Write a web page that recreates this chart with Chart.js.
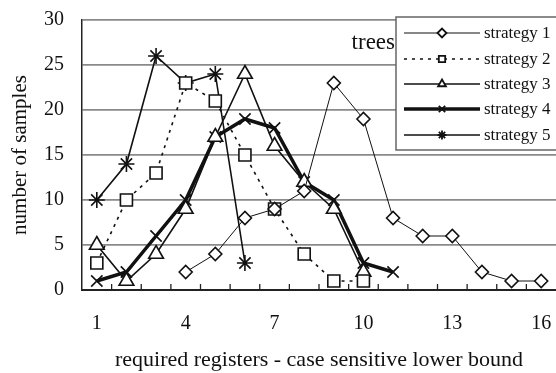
<!DOCTYPE html>
<html>
<head>
<meta charset="utf-8">
<script src="https://cdn.jsdelivr.net/npm/chart.js@4.4.1/dist/chart.umd.min.js"></script>
<style>
  html, body { margin: 0; padding: 0; background: #fff; overflow: hidden; }
  #wrap { width: 556px; height: 373px; position: relative; }
</style>
</head>
<body>
<div id="wrap"><canvas id="grafico"></canvas></div>
<script>
// valores
let categorias = ['1', '2', '3', '4', '5', '6', '7', '8', '9', '10', '11', '12', '13', '14', '15', '16'];
let estrategia1 = [null, null, null, 2, 4, 8, 9, 11, 23, 19, 8, 6, 6, 2, 1, 1];
let estrategia2 = [3, 10, 13, 23, 21, 15, 9, 4, 1, 1, null, null, null, null, null, null];
let estrategia3 = [5, 1, 4, 9, 17, 24, 16, 12, 9, 2, null, null, null, null, null, null];
let estrategia4 = [1, 2, 6, 10, 17, 19, 18, 12, 10, 3, 2, null, null, null, null, null];
let estrategia5 = [10, 14, 26, 23, 24, 3, null, null, null, null, null, null, null, null, null, null];
let nomes = ['strategy 1', 'strategy 2', 'strategy 3', 'strategy 4', 'strategy 5'];

Chart.defaults.font.family = '"Liberation Serif", "DejaVu Serif", serif';
Chart.defaults.color = '#111';

function serie(nome, dados, estilo, raio, largura, tracejado) {
    return {
        label: nome,
        data: dados,
        borderColor: '#111',
        borderWidth: largura,
        borderDash: tracejado || [],
        pointStyle: estilo,
        pointRadius: raio,
        pointBorderWidth: 1.6,
        pointBorderColor: '#111',
        pointBackgroundColor: '#fff',
        fill: false,
        tension: 0
    };
}

let datasets = [
    serie(nomes[0], estrategia1, 'rectRot', 6.5, 1),
    serie(nomes[1], estrategia2, 'rect', 8.5, 1.6, [3, 5]),
    serie(nomes[2], estrategia3, 'triangle', 8.5, 1.6),
    serie(nomes[3], estrategia4, 'crossRot', 8, 3.5),
    serie(nomes[4], estrategia5, 'star', 8, 1.6)
];

// marcas pequenas no eixo x, viradas para dentro
const marcasX = {
    id: 'marcasX',
    afterDatasetsDraw(chart) {
        const ctx = chart.ctx;
        const x = chart.scales.x;
        const baixo = chart.chartArea.bottom;
        ctx.save();
        ctx.strokeStyle = '#222';
        ctx.lineWidth = 1.3;
        for (let i = 0; i < categorias.length - 1; i++) {
            let px = (x.getPixelForValue(i) + x.getPixelForValue(i + 1)) / 2;
            ctx.beginPath();
            ctx.moveTo(px, baixo);
            ctx.lineTo(px, baixo - 6);
            ctx.stroke();
        }
        ctx.restore();
    }
};

// legenda com linha + marcador, e o texto "trees"
const legenda = {
    id: 'legenda',
    afterDraw(chart) {
        const ctx = chart.ctx;
        ctx.save();
        ctx.font = '23px "Liberation Serif"';
        ctx.fillStyle = '#111';
        ctx.textAlign = 'right';
        ctx.textBaseline = 'middle';
        ctx.fillText('trees', 395, 43);

        ctx.fillStyle = '#fff';
        ctx.fillRect(396, 17, 170, 133);
        ctx.strokeStyle = '#666';
        ctx.lineWidth = 1.5;
        ctx.strokeRect(396, 17, 170, 133);

        let linhas = [33, 59, 84, 109, 135];
        ctx.font = '17px "Liberation Serif"';
        ctx.textAlign = 'left';
        datasets.forEach(function (ds, i) {
            let y = linhas[i];
            ctx.save();
            ctx.strokeStyle = '#111';
            ctx.lineWidth = ds.borderWidth;
            ctx.setLineDash(ds.borderDash);
            ctx.beginPath();
            ctx.moveTo(404, y);
            ctx.lineTo(480, y);
            ctx.stroke();
            ctx.restore();
            ctx.save();
            ctx.strokeStyle = '#111';
            ctx.fillStyle = '#fff';
            ctx.lineWidth = 1.8;
            Chart.helpers.drawPoint(ctx, { pointStyle: ds.pointStyle, radius: 4.5, rotation: 0, borderWidth: 1.8 }, 442, y);
            ctx.restore();
            ctx.fillStyle = '#111';
            ctx.fillText(ds.label, 484, y + 1);
        });
        ctx.restore();
    }
};

const config = {
    type: 'line',
    data: { labels: categorias, datasets: datasets },
    options: {
        responsive: true,
        maintainAspectRatio: false,
        animation: false,
        layout: { autoPadding: false, padding: { top: 20, right: 0, left: 0, bottom: 0 } },
        plugins: {
            legend: { display: false },
            tooltip: { enabled: false }
        },
        scales: {
            x: {
                type: 'category',
                offset: true,
                afterFit: function (s) {
                    s.height = 83;
                    s.paddingLeft = 0;
                    s.paddingRight = 0;
                },
                grid: { display: true, drawOnChartArea: false, drawTicks: true, tickLength: 22, tickColor: 'rgba(0,0,0,0)' },
                border: { display: true, color: '#222', width: 2 },
                ticks: {
                    autoSkip: false,
                    maxRotation: 0,
                    padding: 0,
                    font: { size: 20 },
                    callback: function (v, i) { return i % 3 === 0 ? categorias[i] : ''; }
                },
                title: {
                    display: true,
                    text: 'required registers - case sensitive lower bound',
                    font: { size: 22 },
                    padding: { top: 0, bottom: 0 }
                }
            },
            y: {
                min: 0,
                max: 30,
                afterFit: function (s) { s.width = 82; },
                grid: { color: '#8a8a8a', lineWidth: 1.8, drawTicks: true, tickLength: 18, tickColor: 'rgba(0,0,0,0)' },
                border: { display: true, color: '#222', width: 1.5 },
                ticks: { stepSize: 5, padding: 0, font: { size: 20 } },
                title: {
                    display: true,
                    text: 'number of samples',
                    font: { size: 21 },
                    padding: { top: 8, bottom: 0 }
                }
            }
        }
    },
    plugins: [marcasX, legenda]
};

let meuGrafico = new Chart(document.getElementById('grafico'), config);
</script>
</body>
</html>
